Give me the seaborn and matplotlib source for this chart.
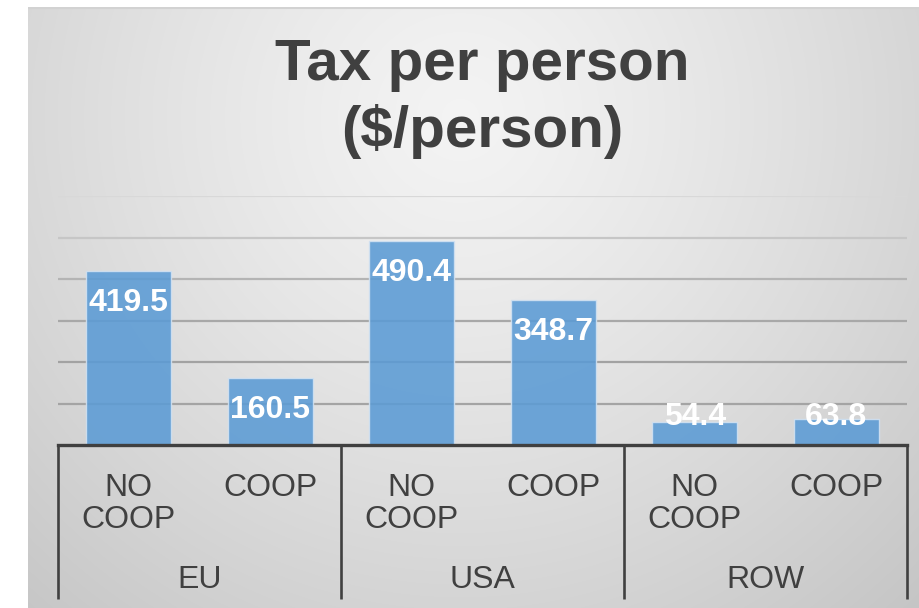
import numpy as np
import pandas as pd
import matplotlib
matplotlib.use("Agg")
import matplotlib.pyplot as plt
import matplotlib.transforms as mtransforms
import seaborn as sns

# Data
regions = ["EU", "USA", "ROW"]
scenarios = ["NO\nCOOP", "COOP"]
tax_values = [419.5, 160.5, 490.4, 348.7, 54.4, 63.8]

keys = [f"{r}|{s}" for r in regions for s in scenarios]
df = pd.DataFrame({"key": keys, "value": tax_values})

sns.set_theme(style="white")
plt.rcParams["font.family"] = ["Liberation Sans", "DejaVu Sans"]

W, H = 920, 608
fig = plt.figure(figsize=(W / 100, H / 100), dpi=100)
fig.patch.set_facecolor("white")

# Soft radial gray backdrop for the chart panel
px0, py_top = 28, 7
bg = fig.add_axes([px0 / W, 0, 1 - px0 / W, 1 - py_top / H], zorder=0)
bw, bh = W - px0, H - py_top
yy, xx = np.mgrid[0:bh, 0:bw]
cx, cy = 460 - px0, 110
r = np.hypot(xx - cx, (yy - cy) * 1.0) / 650.0
shade = 0.955 - 0.175 * np.clip(r, 0, 1.2) ** 1.25
bg.imshow(np.dstack([shade] * 3), aspect="auto", extent=(0, bw, bh, 0),
          interpolation="bilinear")
bg.plot([0, bw], [0.8, 0.8], color="#d2d2d2", lw=1.5)
bg.set_xlim(0, bw)
bg.set_ylim(bh, 0)
bg.axis("off")

# Plot area
left, right, bottom, top = 58, 907, 445, 196
ax = fig.add_axes([left / W, 1 - bottom / H, (right - left) / W, (bottom - top) / H],
                  zorder=1)
ax.set_facecolor("none")

sns.barplot(data=df, x="key", y="value", order=keys, color="#5B9BD5",
            saturation=1, width=0.6, alpha=0.88, edgecolor="#d2e2f2",
            linewidth=1.0, ax=ax, zorder=3)

ax.set_ylim(0, 600)
ax.set_xlim(-0.5, 5.5)
ax.set_yticks([100, 200, 300, 400, 500, 600])
ax.set_yticklabels([])
ax.tick_params(axis="y", length=0)
ax.yaxis.grid(True, linewidth=1.6)
ax.set_axisbelow(True)
grid_colors = ["#a4a4a4", "#a2a2a2", "#a8a8a8", "#b4b4b4", "#c6c6c6", "#d8d8d8"]
for gl, c in zip(ax.get_ygridlines(), grid_colors):
    gl.set_color(c)
ax.set_xticks([])
ax.set_xlabel("")
ax.set_ylabel("")
for s in ["top", "right", "left"]:
    ax.spines[s].set_visible(False)
ax.spines["bottom"].set_color("#404040")
ax.spines["bottom"].set_linewidth(2.4)
ax.spines["bottom"].set_zorder(5)

# Value labels inside the bar ends
px_per_unit = (bottom - top) / 600
for i, v in enumerate(tax_values):
    y_lab = max(v - 32 / px_per_unit, 28 / px_per_unit)
    ax.text(i, y_lab, f"{v:.1f}", ha="center", va="center", color="white",
            fontsize=23, fontweight="bold", zorder=6)

# Two-level category axis
trans = mtransforms.blended_transform_factory(ax.transData, ax.transAxes)
ax_h = bottom - top
for xb in [-0.5, 1.5, 3.5, 5.5]:
    ax.plot([xb, xb], [0, -(599 - bottom) / ax_h], transform=trans,
            color="#404040", lw=1.9, clip_on=False, solid_capstyle="butt", zorder=5)

for i, k in enumerate(keys):
    lab = k.split("|")[1]
    ax.text(i, -(473 - bottom) / ax_h, lab, transform=trans, ha="center", va="top",
            multialignment="center", fontsize=23, color="#404040", linespacing=1.1)

for g, reg in enumerate(regions):
    ax.text(2 * g + 0.5, -(580 - bottom) / ax_h, reg, transform=trans,
            ha="center", va="center", fontsize=23, color="#404040")

fig.text(482 / W, 1 - 38 / H, "Tax per person\n($/person)", ha="center", va="top",
         fontsize=42, fontweight="bold", color="#404040", linespacing=1.27)

fig.savefig("out.png", dpi=100)
